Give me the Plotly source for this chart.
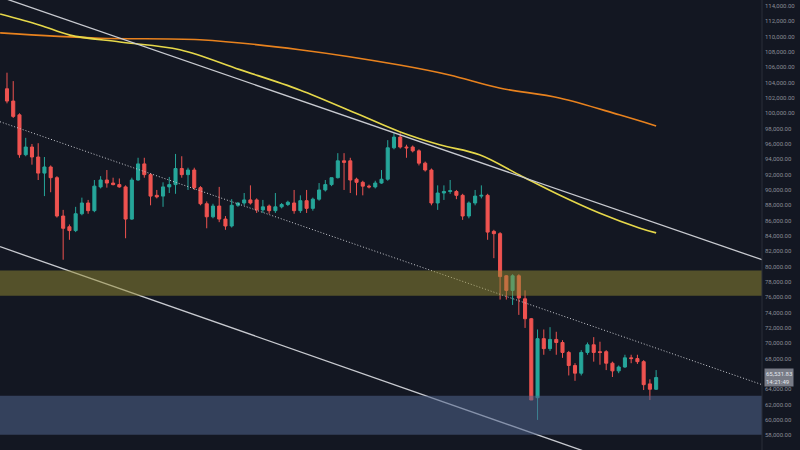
import plotly.graph_objects as go

opens  = [103.2,101.6,99.8,94.6,95.6,94.3,92.2,93.0,91.6,86.6,85.2,84.7,86.9,88.3,87.3,90.4,91.3,90.9,90.7,90.4,86.2,91.3,93.4,92.0,89.3,89.2,90.4,90.7,92.8,92.0,92.6,90.3,88.2,86.5,
          87.9,86.2,85.3,88.0,88.3,88.7,88.7,87.4,87.9,87.3,87.8,88.1,88.3,87.3,88.6,87.6,88.8,90.0,90.7,91.6,93.8,93.8,91.4,91.0,90.5,90.4,90.9,91.4,95.5,96.9,95.6,95.6,95.1,93.5,
          92.6,88.3,89.6,89.8,89.8,89.3,86.6,88.3,89.2,89.3,84.6,84.3,78.8,76.9,78.8,75.8,73.2,62.9,
          70.6,69.3,70.5,70.1,68.8,67.1,66.1,68.8,69.8,68.9,68.9,67.4,66.4,66.9,68.1,68.0,67.6,64.7,64.0]
closes = [101.6,99.6,94.6,95.6,94.3,92.2,93.0,91.6,86.6,85.0,84.7,86.9,88.3,87.3,90.5,91.3,90.9,90.7,90.4,86.2,91.3,93.4,92.0,89.2,89.1,90.4,90.7,92.8,92.0,92.6,90.3,88.2,86.5,87.9,
          86.2,85.3,88.0,88.3,88.7,88.3,87.4,87.8,87.3,87.8,88.1,88.4,87.3,88.6,87.6,88.8,90.0,90.7,91.6,93.8,93.6,91.3,91.0,90.5,90.4,90.9,91.4,95.5,96.9,95.6,95.5,95.1,93.5,92.6,
          88.3,89.6,89.8,89.9,89.3,86.6,88.3,89.2,89.3,84.5,84.3,78.7,76.9,78.8,75.9,73.2,62.6,70.6,
          69.3,70.5,70.1,68.8,67.1,66.1,68.8,69.8,68.8,68.8,67.4,66.4,66.9,68.1,68.0,67.6,64.6,64.0,65.53]
highs  = [105.3,104.2,100.0,96.8,96.0,96.1,94.3,93.2,91.8,87.4,85.5,87.8,89.0,88.7,91.3,91.8,92.6,91.6,91.5,90.6,91.6,94.2,94.2,92.2,90.0,91.0,91.7,94.7,94.4,92.9,92.9,90.5,88.5,88.2,
          90.4,86.6,88.8,88.4,89.6,90.6,88.9,88.7,88.1,89.6,88.3,88.6,90.0,89.3,90.0,89.0,90.9,91.3,91.6,94.8,94.8,94.2,91.6,91.2,90.7,91.2,92.6,96.5,97.4,97.4,95.9,95.8,95.3,93.7,
          92.8,90.6,90.6,91.3,90.0,89.5,88.5,90.0,90.6,89.5,84.8,84.5,78.9,79.0,79.0,76.9,73.3,71.8,
          71.8,72.1,71.5,70.4,69.0,67.4,69.1,70.1,70.8,70.2,69.1,67.6,67.1,68.5,68.5,68.5,67.8,65.3,66.5]
lows   = [101.3,99.4,94.2,94.4,93.3,91.3,89.2,89.7,86.4,80.9,83.5,84.5,86.7,86.9,87.1,90.2,90.3,90.6,90.3,83.7,86.1,91.2,91.6,88.0,88.9,87.8,89.6,89.5,91.6,90.0,90.0,88.0,85.0,86.3,
          85.8,84.8,85.1,87.8,88.0,88.1,87.0,87.0,86.9,87.0,87.6,87.9,86.9,87.0,87.0,87.3,88.6,89.8,90.5,91.5,90.0,89.6,89.3,89.3,90.2,90.2,90.8,91.2,95.3,95.4,94.2,94.9,93.2,92.4,
          88.0,87.4,88.7,89.5,88.8,86.1,86.3,88.0,88.9,83.5,81.1,75.7,75.7,75.0,73.7,72.0,62.6,60.0,
          68.5,69.0,68.5,68.1,65.8,65.1,65.8,68.5,67.6,67.2,66.5,65.6,66.1,66.8,67.4,67.3,63.9,62.6,63.9]
idx = list(range(len(opens)))
K = lambda a: [v*1000 for v in a]

ma200_x = [-1.1,14.9,30.9,46.9,62.9,70.9,78.9,88.5,98.1,104]
ma200_y = [110500,109800,109600,108300,106300,105000,103300,102000,99800,98350]
ma100_x = [-1.1,5.3,10.1,18.1,27.7,37.3,46.9,56.5,62.9,69.3,75.7,82.1,88.5,94.9,101.3,104]
ma100_y = [112960,111500,110200,109300,108300,105700,103050,99800,97600,95900,94600,91960,89350,87000,85050,84400]
trend_x = [-1.12,120.96]
upper_y = [115200,80900]
mid_y = [98900,64600]
lower_y = [82600,47800]

XR = [-1.12,120.96]
fig = go.Figure()
fig.add_trace(go.Scatter(x=ma200_x,y=ma200_y,mode='lines',line=dict(color='#e8821e',width=1.6,shape='spline')))
fig.add_trace(go.Scatter(x=ma100_x,y=ma100_y,mode='lines',line=dict(color='#e6d84a',width=1.6,shape='spline')))
fig.add_trace(go.Scatter(x=trend_x,y=upper_y,mode='lines',line=dict(color='#c8cad0',width=1.3)))
fig.add_trace(go.Scatter(x=trend_x,y=mid_y,mode='lines',line=dict(color='#c8cad0',width=1,dash='1px,2px')))
fig.add_trace(go.Scatter(x=trend_x,y=lower_y,mode='lines',line=dict(color='#c8cad0',width=1.3)))
fig.add_trace(go.Candlestick(x=idx,open=K(opens),high=K(highs),low=K(lows),close=K(closes),
    increasing=dict(line=dict(color='#26a69a',width=1),fillcolor='#26a69a'),
    decreasing=dict(line=dict(color='#ef5350',width=1),fillcolor='#ef5350'),whiskerwidth=0))
fig.add_shape(type='rect',xref='x',yref='y',x0=XR[0],x1=XR[1],y0=76200,y1=79500,fillcolor='rgba(150,140,50,0.5)',line_width=0,layer='above')
fig.add_shape(type='rect',xref='x',yref='y',x0=XR[0],x1=XR[1],y0=58060,y1=63150,fillcolor='rgba(80,100,140,0.55)',line_width=0,layer='above')
fig.add_shape(type='line',xref='paper',yref='paper',x0=1,x1=1,y0=0,y1=1,line=dict(color='#2a2e39',width=1))
fig.add_annotation(xref='paper',yref='y',x=1.002,y=65531.83,xanchor='left',yanchor='middle',showarrow=False,
    text='65,531.83<br>14:21:49',font=dict(size=6,color='#e0e3eb',family='Roboto'),bgcolor='#787b86',borderpad=1,align='left')
tv = list(range(56000,116000,2000))
fig.update_layout(width=800,height=450,margin=dict(l=0,r=38,t=0,b=0,pad=0),showlegend=False,autosize=False,
    paper_bgcolor='#131722',plot_bgcolor='#131722',
    xaxis=dict(range=XR,visible=False,rangeslider=dict(visible=False),automargin=False),
    yaxis=dict(range=[56075,114783],side='right',tickvals=tv,ticktext=[f'{v:,.2f}' for v in tv],automargin=False,
               showgrid=False,zeroline=False,tickfont=dict(size=6,color='#8a8d96',family='Roboto'),ticks='',ticklabelstandoff=2))
fig.write_html('out.html', config={'displayModeBar': False},
    post_script="document.body.style.margin='0';document.body.style.overflow='hidden';document.body.style.background='#131722';")
